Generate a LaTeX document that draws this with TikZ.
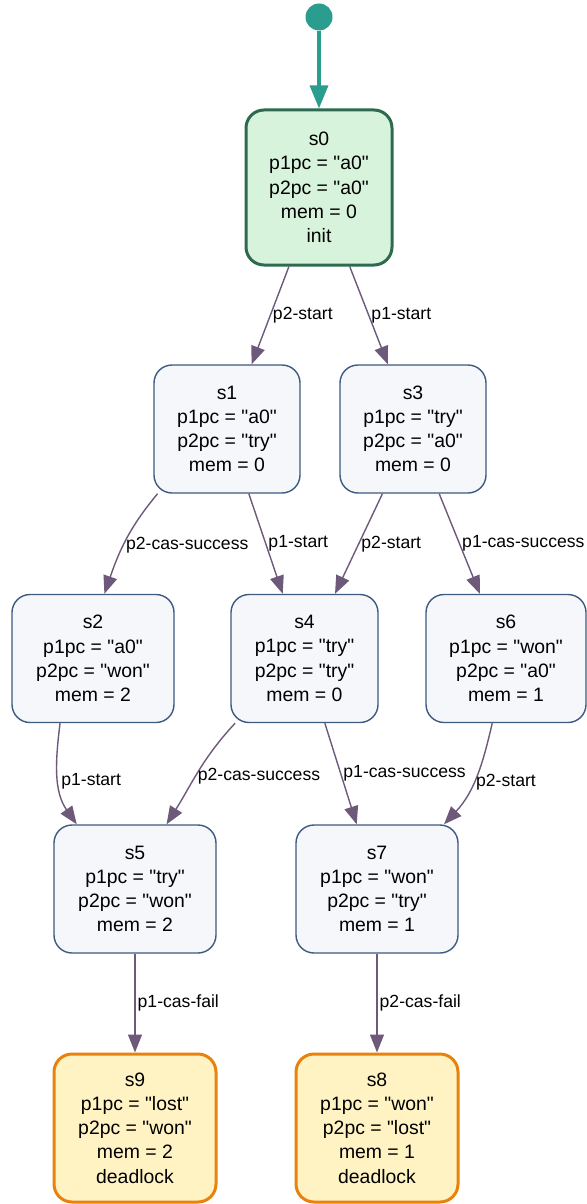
\documentclass[tikz,border=0pt]{standalone}
\usepackage{fontspec}
\setmainfont{Liberation Sans}[Ligatures=TeXOff]
\usetikzlibrary{arrows.meta}
\definecolor{startcolor}{HTML}{2A9D8F}
\definecolor{initfill}{HTML}{D8F3DC}
\definecolor{initdraw}{HTML}{2D6A4F}
\definecolor{statefill}{HTML}{F5F7FA}
\definecolor{statedraw}{HTML}{3D5A80}
\definecolor{deadfill}{HTML}{FFF3C4}
\definecolor{deaddraw}{HTML}{E9820C}
\definecolor{edgecolor}{HTML}{6D597A}
\begin{document}
\begin{tikzpicture}
[x=1pt,y=1pt,
  statedecorate/.style={shape=rectangle,rounded corners=18pt,draw=statedraw,fill=statefill,%
    line width=1.4pt,align=center,minimum height=128pt,font=\fontsize{19.4}{24.2}\selectfont},
  initdecorate/.style={statedecorate,draw=initdraw,fill=initfill,line width=3pt,%
    minimum height=155pt,minimum width=146pt},
  deaddecorate/.style={statedecorate,draw=deaddraw,fill=deadfill,line width=3pt,%
    minimum height=148pt,minimum width=162pt},
  linedecorate/.style={-{Triangle[length=18pt,width=14pt]},draw=edgecolor,line width=1.4pt},
  labeldecorate/.style={anchor=west,inner sep=2pt,font=\fontsize{17.6}{20}\selectfont}]
\useasboundingbox (0,0) rectangle (586,-1204);
%% start point and initial state
\node (start) at (319,-17) [shape=circle,fill=startcolor,minimum size=27pt,inner sep=0pt] {};
\node (s0) at (319,-187.5) [initdecorate] {s0\\p1pc = "a0"\\p2pc = "a0"\\mem = 0\\init};
\draw[-{Triangle[length=23pt,width=18pt]},draw=startcolor,line width=3.3pt] (start) -- (s0);
%% ordinary states
\foreach \nodename/\x/\y/\w/\pone/\ptwo/\memval in {
  s1/227/429/146/a0/try/0, s3/413/429/146/try/a0/0,
  s2/93/658.5/162/a0/won/2, s4/304.5/658.5/147/try/try/0, s6/506/658.5/160/won/a0/1,
  s5/135/889/162/try/won/2, s7/377/889/162/won/try/1}
{
  \node (\nodename) at (\x,-\y) [statedecorate,minimum width=\w]
    {\nodename\\p1pc = "\pone"\\p2pc = "\ptwo"\\mem = \memval};
}
%% deadlock states
\foreach \nodename/\x/\pone/\ptwo/\memval in {s9/135/lost/won/2, s8/377/won/lost/1}
{
  \node (\nodename) at (\x,-1128) [deaddecorate]
    {\nodename\\p1pc = "\pone"\\p2pc = "\ptwo"\\mem = \memval\\deadlock};
}
%% straight transitions
\path
\foreach \startnode/\endnode/\edgelabel in {
  s0/s1/p2-start, s0/s3/p1-start, s1/s4/p1-start, s3/s4/p2-start,
  s3/s6/p1-cas-success, s4/s7/p1-cas-success, s5/s9/p1-cas-fail, s7/s8/p2-cas-fail} {
  (\startnode) edge[linedecorate] node[labeldecorate] {\edgelabel} (\endnode)
};
%% bent transitions
\path
\foreach \startnode/\endnode/\outangle/\inangle/\edgelabel in {
  s1.-137/s2.80/-130/71/p2-cas-success, s2.-117/s5.132/-97/125/p1-start,
  s4.-137/s5.64/-133/58/p2-cas-success, s6.-102/s7.44/-103/47/p2-start} {
  (\startnode) edge[linedecorate,out=\outangle,in=\inangle] node[labeldecorate,pos=0.55] {\edgelabel} (\endnode)
};
\end{tikzpicture}
\end{document}
